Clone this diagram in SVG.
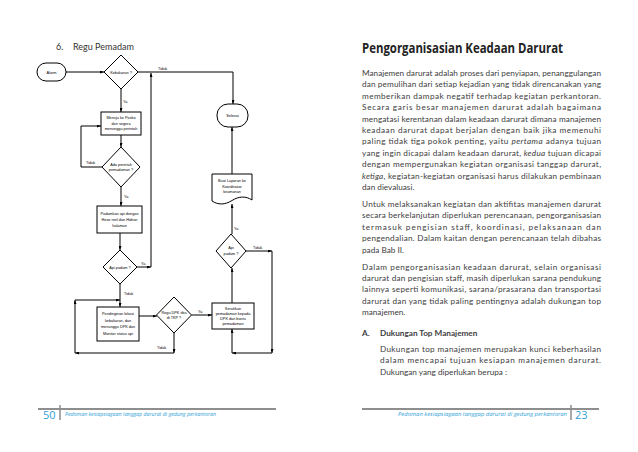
<svg xmlns="http://www.w3.org/2000/svg" width="638" height="452" viewBox="0 0 638 452">
<defs>
<marker id="ah" viewBox="0 0 8 6" markerWidth="4" markerHeight="3" refX="8" refY="3" orient="auto" markerUnits="userSpaceOnUse">
<path d="M0,0 L8,3 L0,6 z" fill="#000"/>
</marker>
<style>
.s{fill:#fff;stroke:#000;stroke-width:1}
.ft{font-family:"Liberation Sans",Arial,sans-serif;font-size:3.8px;fill:#000;text-anchor:middle}
.lb{font-family:"Liberation Sans",Arial,sans-serif;font-size:3.8px;fill:#000}
.c line{stroke:#000;stroke-width:1;marker-end:url(#ah)}
.b{font-family:Lato,"Open Sans",sans-serif;font-size:8.2px;fill:#3d3d3d}
.h{font-family:"Open Sans",sans-serif;font-size:13.5px;font-weight:bold;fill:#222}
.fb{font-family:"Open Sans",sans-serif;fill:#2f9fd6}
</style>
</defs>
<rect width="638" height="452" fill="#fff"/>

<text x="56" y="50" font-family="Lato,sans-serif" font-size="9" fill="#333">6.</text>
<text x="73" y="50" font-family="Lato,sans-serif" font-size="9" fill="#333">Regu Pemadam</text>

<g id="connectors" class="c">
<line x1="66" y1="72" x2="104" y2="72"/>
<line x1="138" y1="72" x2="233" y2="72" style="marker-end:none"/>
<line x1="233" y1="72" x2="233" y2="104"/>
<line x1="121" y1="89" x2="121" y2="112"/>
<line x1="121" y1="135" x2="121" y2="147"/>
<line x1="102" y1="167" x2="81" y2="167" style="marker-end:none"/>
<line x1="81" y1="167" x2="81" y2="126" style="marker-end:none"/>
<line x1="81" y1="126" x2="101" y2="126"/>
<line x1="121" y1="187" x2="121" y2="206"/>
<line x1="120" y1="233" x2="120" y2="250"/>
<line x1="137" y1="267" x2="151" y2="267"/>
<line x1="151" y1="267" x2="151" y2="73"/>
<line x1="120" y1="284" x2="120" y2="307"/>
<line x1="75" y1="300" x2="120" y2="300"/>
<line x1="75" y1="353" x2="75" y2="300"/>
<line x1="139" y1="316" x2="157" y2="316"/>
<line x1="191.5" y1="315" x2="212" y2="315"/>
<line x1="174" y1="333" x2="174" y2="353"/>
<line x1="174" y1="353" x2="75" y2="353"/>
<line x1="232" y1="303" x2="232" y2="268"/>
<line x1="246" y1="251" x2="272" y2="251"/>
<line x1="272" y1="251" x2="272" y2="353"/>
<line x1="272" y1="353" x2="232" y2="353"/>
<line x1="232" y1="353" x2="232" y2="329"/>
<line x1="232" y1="234" x2="232" y2="204"/>
<line x1="232" y1="174" x2="232" y2="127"/>
<text class="lb" x="158" y="70">Tidak</text>
<text class="lb" x="123" y="103">Ya</text>
<text class="lb" x="86" y="164">Tidak</text>
<text class="lb" x="124" y="198">Ya</text>
<text class="lb" x="141" y="265">Ya</text>
<text class="lb" x="124" y="295">Tidak</text>
<text class="lb" x="198" y="313">Ya</text>
<text class="lb" x="157" y="349">Tidak</text>
<text class="lb" x="253" y="249">Tidak</text>
<text class="lb" x="234" y="230">Ya</text>
</g>

<g id="alarm"><rect class="s" x="37" y="63" width="29" height="18" rx="9"/><text class="ft" x="51.5" y="73.5">Alarm</text></g>
<g id="kebakaran"><path class="s" d="M121,55 L138,72 L121,89 L104,72 Z"/><text class="ft" x="121" y="73.5">Kebakaran ?</text></g>
<g id="menuju"><rect class="s" x="101" y="112" width="40" height="23"/><text class="ft" x="121" y="119">Menuju ke Posko</text><text class="ft" x="121" y="124.5">dan segera</text><text class="ft" x="121" y="130">menunggu perintah</text></g>
<g id="perintah"><path class="s" d="M121,147 L140,167 L121,187 L102,167 Z"/><text class="ft" x="121" y="166">Ada perintah</text><text class="ft" x="121" y="171">pemadaman ?</text></g>
<g id="padamkan"><rect class="s" x="97" y="206" width="45" height="27"/><text class="ft" x="119.5" y="214.5">Padamkan api dengan</text><text class="ft" x="119.5" y="220.5">Hose reel dan Hidran</text><text class="ft" x="119.5" y="226.5">halaman</text></g>
<g id="apipadam1"><path class="s" d="M120,250 L137,267 L120,284 L103,267 Z"/><text class="ft" x="120" y="268.5">Api padam ?</text></g>
<g id="pendinginan"><rect class="s" x="97" y="307" width="42" height="34"/><text class="ft" x="118" y="315">Pendinginan lokasi</text><text class="ft" x="118" y="321.5">kebakaran, dan</text><text class="ft" x="118" y="328">menunggu DPK dan</text><text class="ft" x="118" y="334.5">Monitor status api</text></g>
<g id="regudpk"><path class="s" d="M174,297 L191.5,315 L174,333 L156.5,315 Z"/><text class="ft" x="174" y="314">Regu DPK tiba</text><text class="ft" x="174" y="319">di TKP ?</text></g>
<g id="serahkan"><rect class="s" x="212" y="303" width="42" height="26"/><text class="ft" x="233" y="309.5">Serahkan</text><text class="ft" x="233" y="314.5">pemadaman kepada</text><text class="ft" x="233" y="319.5">DPK dan bantu</text><text class="ft" x="233" y="324.5">pemadaman</text></g>
<g id="apipadam2"><path class="s" d="M231,234 L246,251 L231,268 L216,251 Z"/><text class="ft" x="231" y="249">Api</text><text class="ft" x="231" y="255">padam ?</text></g>
<g id="laporan"><path class="s" d="M212,174 H252 V200 C246,196 239,196 232,200.5 C225,205 218,205 212,201 Z"/><text class="ft" x="232" y="182">Buat Laporan ke</text><text class="ft" x="232" y="187.5">Koordinator</text><text class="ft" x="232" y="193">keamanan</text></g>
<g id="selesai"><rect class="s" x="217" y="104" width="31" height="23" rx="11"/><text class="ft" x="232.5" y="116.5">Selesai</text></g>

<g id="footer-left">
<line x1="38" y1="409" x2="276" y2="409" stroke="#8e8e8e" stroke-width="2"/>
<text class="fb" x="43" y="419" font-size="11">50</text>
<line x1="60" y1="405" x2="60" y2="420" stroke="#8e8e8e" stroke-width="1.5"/>
<text class="fb" x="65" y="416" font-size="5.3" font-style="italic" textLength="151" lengthAdjust="spacingAndGlyphs">Pedoman kesiapsiagaan tanggap darurat di gedung perkantoran</text>
</g>
<g id="footer-right">
<line x1="362" y1="409" x2="599" y2="409" stroke="#8e8e8e" stroke-width="2"/>
<text class="fb" x="398" y="416" font-size="5.3" font-style="italic" textLength="169" lengthAdjust="spacingAndGlyphs">Pedoman kesiapsiagaan tanggap darurat di gedung perkantoran</text>
<line x1="571" y1="405" x2="571" y2="420" stroke="#8e8e8e" stroke-width="1.5"/>
<text class="fb" x="575" y="419" font-size="11">23</text>
</g>

<g id="page-text">
<text class="h" x="362" y="53" textLength="201" lengthAdjust="spacingAndGlyphs">Pengorganisasian Keadaan Darurat</text>
<text class="b" x="362" y="76" textLength="239">Manajemen darurat adalah proses dari penyiapan, penanggulangan</text>
<text class="b" x="362" y="87.4" textLength="239">dan pemulihan dari setiap kejadian yang tidak direncanakan yang</text>
<text class="b" x="362" y="98.8" textLength="239">memberikan dampak negatif terhadap kegiatan perkantoran.</text>
<text class="b" x="362" y="110.2" textLength="239">Secara garis besar manajemen darurat adalah bagaimana</text>
<text class="b" x="362" y="121.6" textLength="239">mengatasi kerentanan dalam keadaan darurat dimana manajemen</text>
<text class="b" x="362" y="133" textLength="239">keadaan darurat dapat berjalan dengan baik jika memenuhi</text>
<text class="b" x="362" y="144.4" textLength="239">paling tidak tiga pokok penting, yaitu <tspan font-style="italic">pertama</tspan> adanya tujuan</text>
<text class="b" x="362" y="155.8" textLength="239">yang ingin dicapai dalam keadaan darurat, <tspan font-style="italic">kedua</tspan> tujuan dicapai</text>
<text class="b" x="362" y="167.2" textLength="239">dengan mempergunakan kegiatan organisasi tanggap darurat,</text>
<text class="b" x="362" y="178.6" textLength="239"><tspan font-style="italic">ketiga</tspan>, kegiatan-kegiatan organisasi harus dilakukan pembinaan</text>
<text class="b" x="362" y="190">dan dievaluasi.</text>

<text class="b" x="362" y="207" textLength="239">Untuk melaksanakan kegiatan dan aktifitas manajemen darurat</text>
<text class="b" x="362" y="218.4" textLength="239">secara berkelanjutan diperlukan perencanaan, pengorganisasian</text>
<text class="b" x="362" y="229.8" textLength="239">termasuk pengisian staff, koordinasi, pelaksanaan dan</text>
<text class="b" x="362" y="241.2" textLength="239">pengendalian. Dalam kaitan dengan perencanaan telah dibahas</text>
<text class="b" x="362" y="252.6">pada Bab II.</text>

<text class="b" x="362" y="269.6" textLength="239">Dalam pengorganisasian keadaan darurat, selain organisasi</text>
<text class="b" x="362" y="281" textLength="239">darurat dan pengisian staff, masih diperlukan sarana pendukung</text>
<text class="b" x="362" y="292.4" textLength="239">lainnya seperti komunikasi, sarana/prasarana dan transportasi</text>
<text class="b" x="362" y="303.8" textLength="239">darurat dan yang tidak paling pentingnya adalah dukungan top</text>
<text class="b" x="362" y="315.2">manajemen.</text>

<text class="b" x="362" y="336" font-weight="bold" fill="#222">A.</text>
<text class="b" x="380" y="336" font-weight="bold" fill="#222">Dukungan Top Manajemen</text>

<text class="b" x="380" y="352" textLength="221">Dukungan top manajemen merupakan kunci keberhasilan</text>
<text class="b" x="380" y="363.4" textLength="221">dalam mencapai tujuan kesiapan manajemen darurat.</text>
<text class="b" x="380" y="374.8">Dukungan yang diperlukan berupa :</text>
</g>
</svg>
